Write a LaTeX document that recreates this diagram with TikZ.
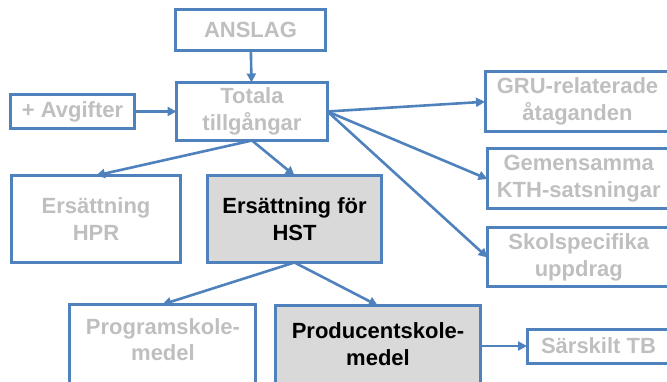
\documentclass[tikz,border=0pt]{standalone}
\usepackage{fontspec}
\setmainfont{Liberation Sans}
\usetikzlibrary{arrows.meta}
\definecolor{frameblue}{HTML}{4F81BD}
\definecolor{boxgray}{HTML}{D9D9D9}
\definecolor{dimtext}{HTML}{BFBFBF}
\begin{document}
\begin{tikzpicture}[x=1pt,y=-1pt,
  box/.style={draw=frameblue, line width=3pt, rectangle, inner sep=0pt, outer sep=0pt,
    align=center, font=\fontsize{22}{27}\selectfont\bfseries, text=dimtext},
  hibox/.style={box, fill=boxgray, text=black},
  lbl/.style={align=center, inner sep=0pt, font=\fontsize{22}{26.5}\selectfont\bfseries},
  flow/.style={draw=frameblue, line width=2.6pt,
    -{Triangle[length=9pt,width=9pt]}}]
\useasboundingbox (0,0) rectangle (667,382);

% top section
\node[box, minimum width=150pt, minimum height=41pt] (anslag) at (250.5,30) {ANSLAG};
\node[box, minimum width=124pt, minimum height=34pt] (avg) at (72.5,111.5) {+ Avgifter};
\node[box, minimum width=151pt, minimum height=58pt] (tot) at (252,111.5) {Totala\\tillgångar};

% right column (continues past the right edge)
\node[box, minimum width=185pt, minimum height=59.5pt] (gru) at (577.5,101.75) {GRU-relaterade\\åtaganden};
\node[box, minimum width=182.5pt, minimum height=60pt] (gem) at (578.75,179) {Gemensamma\\KTH-satsningar};
\node[box, minimum width=182.5pt, minimum height=59pt] (sko) at (578.75,257.5) {Skolspecifika\\uppdrag};

% middle row
\node[box, minimum width=169pt, minimum height=87pt] (hpr) at (96,219) {Ersättning\\HPR};
\node[hibox, minimum width=174pt, minimum height=87pt] (hst) at (294.5,219) {Ersättning för\\HST};

% bottom row (boxes run past the lower edge)
\node[box, anchor=north, minimum width=186.5pt, minimum height=100pt] (prog) at (162.25,304.5) {};
\node[lbl, text=dimtext] (progtext) at (163,339.5) {Programskole-\\medel};
\node[hibox, anchor=north, minimum width=205.5pt, minimum height=100pt] (prod) at (377.75,305.5) {};
\node[lbl, text=black] (prodtext) at (378,344) {Producentskole-\\medel};
\node[box, minimum width=143pt, minimum height=34pt] (sar) at (598.5,346) {Särskilt TB};

% connectors
\draw[flow] (anslag) -- (tot);
\draw[flow] (avg) -- (tot);
\draw[flow] (tot.south) -- (hpr.north);
\draw[flow] (tot.south) -- (hst.north);
\draw[flow] (tot.east) -- (gru.west);
\draw[flow] (tot.east) -- (gem.west);
\draw[flow] (tot.east) -- (sko.west);
\draw[flow] (hst.south) -- (prog.north);
\draw[flow] (hst.south) -- (prod.north);
\draw[flow] (sar.west -| prod.east) -- (sar.west);
\end{tikzpicture}
\end{document}
